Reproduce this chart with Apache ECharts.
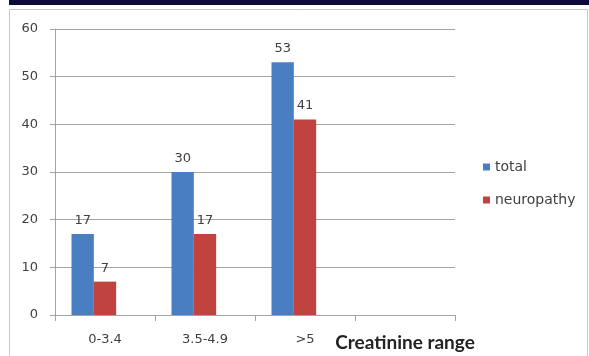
<!DOCTYPE html>
<html>
<head>
<meta charset="utf-8">
<script src="https://cdn.jsdelivr.net/npm/echarts@6/dist/echarts.min.js"></script>
<style>
  html, body { margin: 0; padding: 0; background: #ffffff; }
  #chart { width: 589px; height: 356px; }
</style>
</head>
<body>
<div id="chart"></div>
<script>
// Creatinine ranges; the last slot carries the axis title
const categories = ['0-3.4', '3.5-4.9', '>5', 'Creatinine range'];
const totalValues = [17, 30, 53, null];
const neuropathyValues = [7, 17, 41, null];
const yTicks = { min: 0, max: 60, interval: 10 };

const FONT = '"DejaVu Sans", sans-serif';
const TITLE_FONT = 'Lato, "Open Sans", sans-serif';
const gridColor = '#a3a3a3';
const textColor = '#404040';

const barLabel = {
  show: true,
  position: 'top',
  distance: 7,
  fontFamily: FONT,
  fontSize: 13,
  color: textColor
};

const chart = echarts.init(document.getElementById('chart'), null, { renderer: 'canvas' });

chart.setOption({
  animation: false,
  backgroundColor: '#ffffff',
  graphic: [
    // dark header strip
    { type: 'rect', shape: { x: 9, y: 0, width: 580, height: 5 }, style: { fill: '#0b0b3b' }, silent: true },
    // chart frame
    { type: 'rect', shape: { x: 9.5, y: 9.5, width: 578, height: 360 }, style: { fill: 'none', stroke: '#c8c8c8', lineWidth: 1 }, silent: true }
  ],
  grid: { left: 55, right: 134, top: 29, bottom: 41, containLabel: false },
  legend: {
    data: ['total', 'neuropathy'],
    orient: 'vertical',
    left: 478,
    top: 155,
    icon: 'rect',
    itemWidth: 7,
    itemHeight: 7,
    itemGap: 19,
    textStyle: { fontFamily: FONT, fontSize: 14, color: textColor }
  },
  xAxis: {
    type: 'category',
    data: categories,
    boundaryGap: true,
    axisLine: { show: true, lineStyle: { color: gridColor, width: 1 } },
    axisTick: { show: true, length: 6, lineStyle: { color: gridColor } },
    axisLabel: {
      interval: 0,
      hideOverlap: false,
      margin: 18,
      fontFamily: FONT,
      fontSize: 13,
      color: textColor,
      formatter: function (v, i) {
        return i === categories.length - 1 ? '{t|' + v + '}' : v;
      },
      rich: {
        t: { fontFamily: TITLE_FONT, fontSize: 19, fontWeight: 'bold', color: '#222222' }
      }
    },
    splitLine: { show: false }
  },
  yAxis: {
    type: 'value',
    min: yTicks.min,
    max: yTicks.max,
    interval: yTicks.interval,
    axisLine: { show: true, lineStyle: { color: gridColor, width: 1 } },
    axisTick: { show: true, length: 5, lineStyle: { color: gridColor } },
    axisLabel: { margin: 17, fontFamily: FONT, fontSize: 13, color: textColor },
    splitLine: { show: true, lineStyle: { color: gridColor, width: 1 } }
  },
  series: [
    {
      name: 'total',
      type: 'bar',
      data: totalValues,
      barGap: '0%',
      barCategoryGap: '33%',
      itemStyle: { color: '#4a7ec3' },
      label: barLabel
    },
    {
      name: 'neuropathy',
      type: 'bar',
      data: neuropathyValues,
      itemStyle: { color: '#c0433f' },
      label: barLabel
    },
    {
      // empty third slot in each group
      name: 'blank',
      type: 'bar',
      data: [null, null, null, null],
      itemStyle: { color: 'transparent' }
    }
  ]
});
</script>
</body>
</html>
